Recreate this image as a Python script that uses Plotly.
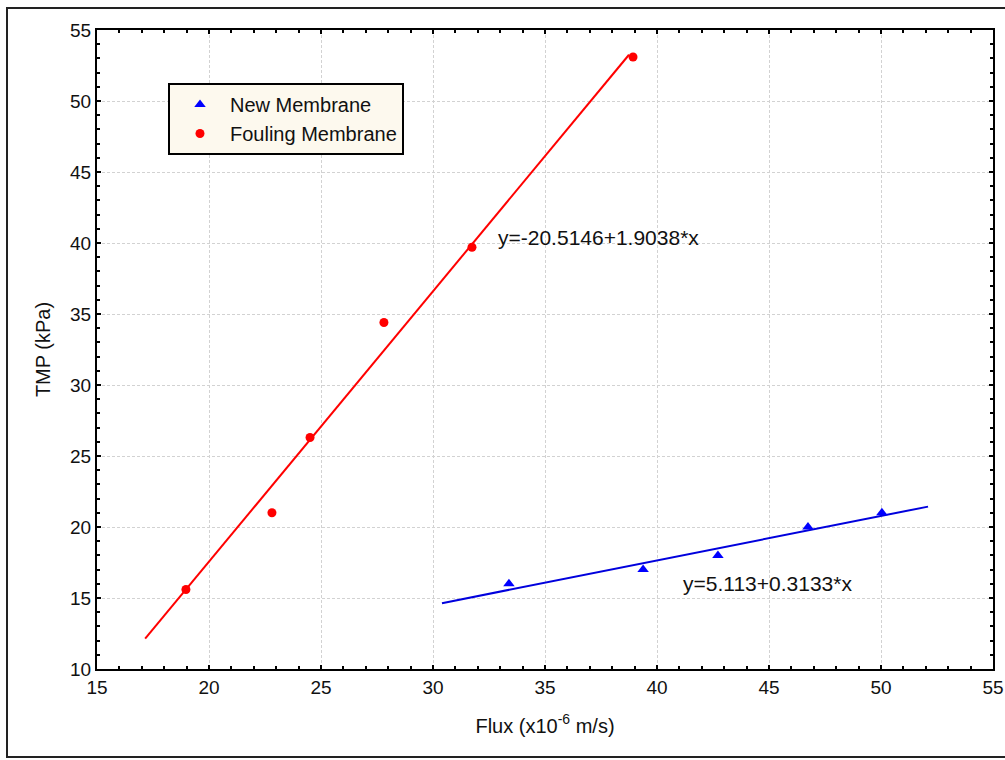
import plotly.graph_objects as go

# Data
new_flux = [33.39, 39.38, 42.72, 46.74, 50.04]
new_tmp = [16.0, 17.0, 18.0, 20.0, 21.0]
foul_flux = [18.97, 22.81, 24.51, 27.81, 31.74, 38.93]
foul_tmp = [15.6, 21.0, 26.3, 34.4, 39.7, 53.1]

# Regression fits shown on chart
new_fit = (5.113, 0.3133)
new_fit_x = [30.4, 52.1]
foul_fit = (-20.5146, 1.9038)
foul_fit_x = [17.15, 38.75]

x_ticks = [15, 20, 25, 30, 35, 40, 45, 50, 55]
y_ticks = [10, 15, 20, 25, 30, 35, 40, 45, 50, 55]

FONT = "Liberation Sans, Arial, sans-serif"

fig = go.Figure()

fig.add_trace(go.Scatter(
    x=foul_fit_x, y=[foul_fit[0] + foul_fit[1] * v for v in foul_fit_x],
    mode="lines", line=dict(color="#ff0000", width=2), showlegend=False, hoverinfo="skip"))
fig.add_trace(go.Scatter(
    x=new_fit_x, y=[new_fit[0] + new_fit[1] * v for v in new_fit_x],
    mode="lines", line=dict(color="#0000dd", width=2), showlegend=False, hoverinfo="skip"))

fig.add_trace(go.Scatter(
    x=new_flux, y=new_tmp, mode="markers", name="New Membrane",
    marker=dict(symbol="triangle-up", size=10, color="#0000ff")))
fig.add_trace(go.Scatter(
    x=foul_flux, y=foul_tmp, mode="markers", name="Fouling Membrane",
    marker=dict(symbol="circle", size=9, color="#ff0000")))

fig.add_annotation(x=32.8, y=40.4, text="y=-20.5146+1.9038*x", showarrow=False,
                   xanchor="left", yanchor="middle", font=dict(size=21, color="#111", family=FONT))
fig.add_annotation(x=41.07, y=16.0, text="y=5.113+0.3133*x", showarrow=False,
                   xanchor="left", yanchor="middle", font=dict(size=21, color="#111", family=FONT))

axis_common = dict(
    showline=True, linecolor="black", linewidth=2, mirror="allticks",
    ticks="inside", ticklen=4, tickcolor="black", tickwidth=1.5,
    showgrid=True, gridcolor="#d2d2d2", griddash="3px,2px", gridwidth=1,
    zeroline=False, automargin=False,
    tickfont=dict(size=19, color="#111", family=FONT),
    minor=dict(ticks="inside", ticklen=3, tickcolor="black", tickwidth=1.5, showgrid=False, dtick=1),
)

fig.update_xaxes(range=[15, 55], tickvals=x_ticks, ticktext=[str(v) for v in x_ticks],
                 title=dict(text="Flux (x10<sup>-6</sup> m/s)", font=dict(size=20, color="#111", family=FONT), standoff=22),
                 **axis_common)
fig.update_yaxes(range=[10, 55], tickvals=y_ticks, ticktext=[str(v) for v in y_ticks],
                 title=dict(text="TMP (kPa)", font=dict(size=20, color="#111", family=FONT), standoff=14),
                 **axis_common)

# outer frame
fig.add_shape(type="rect", xref="paper", yref="paper",
              x0=(7 - 97) / 896, x1=(1012 - 97) / 896,
              y0=(669 - 757) / 639, y1=(669 - 8) / 639,
              line=dict(color="#222", width=2), fillcolor="rgba(0,0,0,0)", layer="below")

fig.update_layout(
    width=1005, height=760,
    margin=dict(l=97, r=12, t=30, b=91),
    paper_bgcolor="white", plot_bgcolor="white",
    font=dict(family=FONT, color="#111"),
    legend=dict(x=(168 - 97) / 896, y=(669 - 83) / 639, xanchor="left", yanchor="top",
                bgcolor="#fdf9ee", bordercolor="black", borderwidth=2,
                font=dict(size=20, family=FONT, color="#111"),
                tracegroupgap=0, itemwidth=50),
    showlegend=True,
)

fig.write_html("out.html")
